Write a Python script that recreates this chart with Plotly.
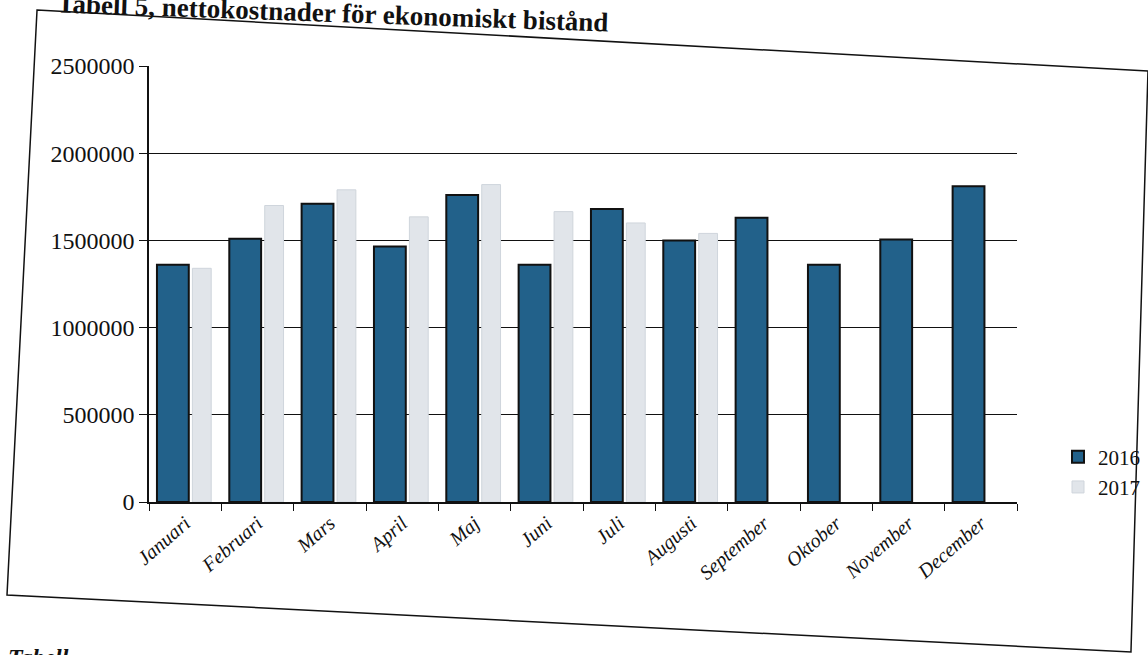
import plotly.graph_objects as go

months = ["Januari", "Februari", "Mars", "April", "Maj", "Juni", "Juli",
          "Augusti", "September", "Oktober", "November", "December"]
values_2016 = [1360000, 1510000, 1710000, 1465000, 1760000, 1360000, 1680000,
               1500000, 1630000, 1360000, 1505000, 1810000]
values_2017 = [1340000, 1700000, 1790000, 1635000, 1820000, 1665000, 1600000,
               1540000, None, None, None, None]
y_ticks = [0, 500000, 1000000, 1500000, 2000000, 2500000]

W, H = 1148, 655
L, T, PW, PH = 149, 66, 868, 436


def px(x):
    return (x - L) / PW


def py(y):
    return (T + PH - y) / PH


SERIF = "Liberation Serif, Times New Roman, serif"

fig = go.Figure()
fig.add_trace(go.Bar(
    x=months, y=values_2016, name="2016",
    offset=-0.39, width=0.44,
    marker=dict(color="#22618a", line=dict(color="#111111", width=2)),
))
fig.add_trace(go.Bar(
    x=months, y=values_2017, name="2017",
    offset=0.10, width=0.26,
    marker=dict(color="#e1e5ea", line=dict(color="#cfd5dc", width=1)),
))

frame = [(37, 10), (1148, 71), (1131, 652), (7, 595)]
path = "M " + " L ".join(f"{px(a):.4f},{py(b):.4f}" for a, b in frame) + " Z"

fig.update_layout(
    width=W, height=H,
    margin=dict(l=L, r=W - L - PW, t=T, b=H - T - PH, autoexpand=False),
    paper_bgcolor="white", plot_bgcolor="white",
    barmode="overlay",
    font=dict(family=SERIF, color="#111111"),
    showlegend=True,
    legend=dict(x=px(1058), y=py(472), xanchor="left", yanchor="middle",
                font=dict(family=SERIF, size=21, color="#111111"),
                bgcolor="rgba(0,0,0,0)", itemwidth=30),
    xaxis=dict(type="category", range=[-0.5, 11.5], showline=True,
               linecolor="#111111", linewidth=1.5,
               ticks="outside", tickson="boundaries", ticklen=7, tickcolor="#111111",
               tickangle=-41, showgrid=False,
               tickfont=dict(family=SERIF, size=20, color="#111111", style="italic")),
    yaxis=dict(range=[0, 2500000], tickvals=y_ticks, tickformat="d",
               showline=True, linecolor="#111111", linewidth=1.5,
               ticks="outside", ticklen=8, tickcolor="#111111",
               showgrid=True, gridcolor="#111111", gridwidth=1.3,
               zeroline=False,
               tickfont=dict(family=SERIF, size=24, color="#111111")),
    shapes=[dict(type="path", path=path, xref="paper", yref="paper",
                 line=dict(color="#111111", width=1.5), fillcolor="rgba(0,0,0,0)")],
    annotations=[
        dict(text="<b>Tabell 5, nettokostnader för ekonomiskt bistånd</b>",
             xref="paper", yref="paper", x=px(333), y=py(13),
             xanchor="center", yanchor="middle", showarrow=False, textangle=2,
             font=dict(family=SERIF, size=27, color="#111111")),
        dict(text="<b><i>Tabell</i></b>",
             xref="paper", yref="paper", x=px(6), y=py(642),
             xanchor="left", yanchor="top", showarrow=False,
             font=dict(family=SERIF, size=24, color="#111111")),
    ],
)

fig.write_html("out.html",
               config={"displayModeBar": False},
               post_script="document.body.style.margin='0';document.body.style.overflow='hidden';")
